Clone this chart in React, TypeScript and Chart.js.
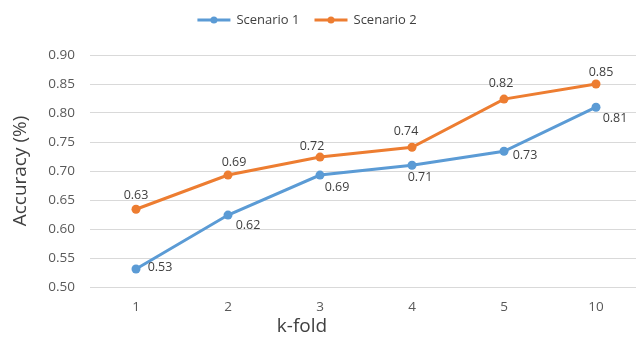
import React, { useEffect, useRef } from "react";
import { Chart, registerables } from "chart.js";

Chart.register(...registerables);

// k-fold settings on the x axis
const folds = ["1", "2", "3", "4", "5", "10"];
// accuracy per fold for each scenario
const scenario1 = [0.531, 0.624, 0.693, 0.71, 0.734, 0.81];
const scenario2 = [0.634, 0.693, 0.724, 0.741, 0.824, 0.85];
// accuracy axis range
const yMin = 0.5;
const yMax = 0.9;
const yStep = 0.05;

const BLUE = "#5B9BD5";
const ORANGE = "#ED7D31";
const FONT = "'Open Sans', 'DejaVu Sans', sans-serif";
const TICK_COLOR = "#595959";
const TEXT_COLOR = "#404040";

// per-point label offsets (dx, dy) from each marker, Excel-style placement
const labelOffsets: [number, number][][] = [
  [[24, -2], [20, 10], [17, 12], [8, 12], [21, 4], [19, 11]],
  [[0, -14], [6, -13], [-8, -11], [-6, -16], [-3, -16], [5, -12]],
];

const valueLabels = {
  id: "valueLabels",
  afterDatasetsDraw(chart: any) {
    const ctx = chart.ctx;
    ctx.save();
    ctx.font = `12.5px ${FONT}`;
    ctx.fillStyle = TEXT_COLOR;
    ctx.textAlign = "center";
    ctx.textBaseline = "middle";
    chart.data.datasets.forEach((ds: any, di: number) => {
      const meta = chart.getDatasetMeta(di);
      meta.data.forEach((pt: any, i: number) => {
        const [dx, dy] = labelOffsets[di][i];
        ctx.fillText(Number(ds.data[i]).toFixed(2), pt.x + dx, pt.y + dy);
      });
    });
    ctx.restore();
  },
};

// legend row and axis titles
const decorations = {
  id: "decorations",
  afterDraw(chart: any) {
    const ctx = chart.ctx;
    const area = chart.chartArea;
    ctx.save();

    // legend
    ctx.font = `13px ${FONT}`;
    ctx.textBaseline = "middle";
    ctx.textAlign = "left";
    const lineLen = 33;
    const gapText = 6;
    const gapItem = 15;
    const items = chart.data.datasets.map((ds: any) => ({
      label: ds.label,
      color: ds.borderColor,
      w: lineLen + gapText + ctx.measureText(ds.label).width,
    }));
    const total = items.reduce((s: number, it: any) => s + it.w, 0) + gapItem * (items.length - 1);
    let x = 307 - total / 2;
    const ly = 20;
    items.forEach((it: any) => {
      ctx.strokeStyle = it.color;
      ctx.lineWidth = 3;
      ctx.beginPath();
      ctx.moveTo(x, ly);
      ctx.lineTo(x + lineLen, ly);
      ctx.stroke();
      ctx.fillStyle = it.color;
      ctx.beginPath();
      ctx.arc(x + lineLen / 2, ly, 3.5, 0, Math.PI * 2);
      ctx.fill();
      ctx.fillStyle = TEXT_COLOR;
      ctx.fillText(it.label, x + lineLen + gapText, ly + 0.5);
      x += it.w + gapItem;
    });

    // x axis title
    ctx.font = `19px ${FONT}`;
    ctx.fillStyle = TEXT_COLOR;
    ctx.textAlign = "center";
    ctx.fillText("k-fold", 302, 327);

    // y axis title
    ctx.translate(21, (area.top + area.bottom) / 2);
    ctx.rotate(-Math.PI / 2);
    ctx.fillText("Accuracy (%)", 0, 0);
    ctx.restore();
  },
};

export default function App() {
  const ref = useRef<HTMLCanvasElement>(null);

  useEffect(() => {
    if (!ref.current) return;
    const chart = new Chart(ref.current, {
      type: "line",
      data: {
        labels: folds,
        datasets: [
          {
            label: "Scenario 1",
            data: scenario1,
            borderColor: BLUE,
            backgroundColor: BLUE,
            borderWidth: 3,
            pointRadius: 4.5,
            pointBorderWidth: 0,
            pointBackgroundColor: BLUE,
            tension: 0,
          },
          {
            label: "Scenario 2",
            data: scenario2,
            borderColor: ORANGE,
            backgroundColor: ORANGE,
            borderWidth: 3,
            pointRadius: 4.5,
            pointBorderWidth: 0,
            pointBackgroundColor: ORANGE,
            tension: 0,
          },
        ],
      },
      options: {
        responsive: false,
        animation: false,
        layout: { padding: { top: 55, right: 8, left: 0, bottom: 0 } },
        plugins: {
          legend: { display: false },
          tooltip: { enabled: false },
        },
        scales: {
          x: {
            offset: true,
            grid: { display: false, drawTicks: false },
            border: { display: false },
            ticks: { font: { family: FONT, size: 13.5 }, color: TICK_COLOR, padding: 12 },
            afterFit: (s: any) => {
              s.height = 50;
            },
          },
          y: {
            min: yMin,
            max: yMax,
            grid: { color: "#D9D9D9", lineWidth: 1, drawTicks: false },
            border: { display: false },
            ticks: {
              stepSize: yStep,
              font: { family: FONT, size: 13.5 },
              color: TICK_COLOR,
              padding: 15,
              callback: (v: any) => Number(v).toFixed(2),
            },
            afterFit: (s: any) => {
              s.width = 90;
            },
          },
        },
      },
      plugins: [valueLabels, decorations],
    });
    return () => chart.destroy();
  }, []);

  return (
    <div
      style={{
        position: "fixed",
        left: 0,
        top: 0,
        width: 636,
        height: 337,
        overflow: "hidden",
        background: "#fff",
      }}
    >
      <canvas ref={ref} width={650} height={337} style={{ display: "block" }} />
    </div>
  );
}
